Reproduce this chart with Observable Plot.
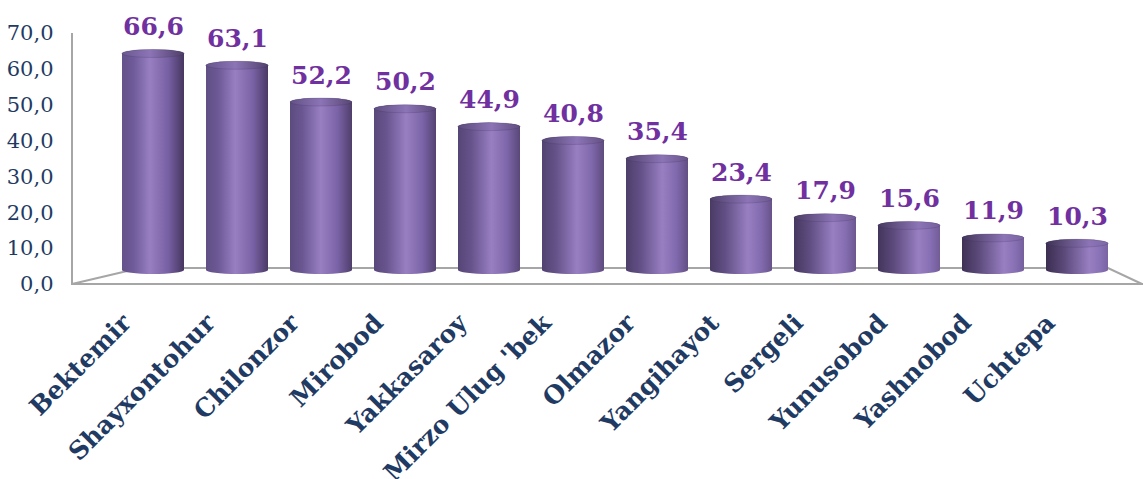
<!DOCTYPE html>
<html><head><meta charset="utf-8">
<script src="https://cdn.jsdelivr.net/npm/d3@7"></script>
<script src="https://cdn.jsdelivr.net/npm/@observablehq/plot@0.6"></script>
<style>
html,body{margin:0;padding:0;background:#fff;}
#chart{position:relative;width:1143px;height:479px;overflow:hidden;}
#chart svg{position:absolute;left:0;top:0;background:transparent !important;}
</style></head><body><div id="chart"></div>
<script>
const districts = ["Bektemir","Shayxontohur","Chilonzor","Mirobod","Yakkasaroy","Mirzo Ulug 'bek","Olmazor","Yangihayot","Sergeli","Yunusobod","Yashnobod","Uchtepa"];
const values = [66.6,63.1,52.2,50.2,44.9,40.8,35.4,23.4,17.9,15.6,11.9,10.3];
const yTicks = [0,10,20,30,40,50,60,70];

const data = districts.map((d,i)=>({district:d, value:values[i], idx:i}));
const fmt = v => v.toFixed(1).replace(".", ",");
const W = 1143, H = 479;
const SERIF = '"DejaVu Serif", serif';
const chart = document.getElementById("chart");
const setFont = (svg) => d3.select(svg).selectAll("text").each(function() { this.style.fontFamily = SERIF; });

// Layer 1: value axis + floor frame
const axisPlot = Plot.plot({
  width: W, height: H,
  marginLeft: 72, marginRight: 2, marginTop: 33, marginBottom: 195,
  x: {domain: [0, 1], axis: null},
  y: {domain: [0, 70], axis: null},
  marks: [
    Plot.axisY(yTicks, {tickSize: 0, tickPadding: 19, tickFormat: fmt, fontSize: 21, fill: "#1f3b63", label: null})
  ]
});
chart.appendChild(axisPlot);
setFont(axisPlot);
{
  const ys = axisPlot.scale("y");
  const y0 = ys.apply(0), y70 = ys.apply(70);
  const yb = y0 - 16;
  const g = d3.select(axisPlot).append("g").attr("stroke", "#a6a6a6").attr("stroke-width", 2).attr("fill", "none");
  g.append("path").attr("d", `M72,${y70}L72,${y0}L1143,${y0}`);
  g.append("path").attr("d", `M72,${y0}L140,${yb}L1108,${yb}L1142,${y0}`);
}

// Layer 2: cylinders, values, category labels
const main = Plot.plot({
  width: W, height: H,
  marginLeft: 111, marginRight: 24, marginTop: 38, marginBottom: 205,
  x: {domain: districts, paddingInner: 0.26, paddingOuter: 0.13, axis: null},
  y: {domain: [0, 70], axis: null},
  marks: [
    Plot.barY(data, {x: "district", y: "value", fill: (d) => `url(#cyl${d.idx})`, rx: 31, ry: 4}),
    Plot.text(data, {x: "district", y: "value", text: d => fmt(d.value), dy: -15, lineAnchor: "bottom",
      fill: "#7030a0", fontSize: 25, fontWeight: "bold"}),
    Plot.axisX({tickSize: 0, tickPadding: 0, tickRotate: -45, textAnchor: "end", lineAnchor: "bottom", label: null,
      dx: -21, dy: 50, fontSize: 25, fontWeight: "bold", fill: "#1f3b63"})
  ]
});
chart.appendChild(main);
setFont(main);
{
  const svg = d3.select(main);
  const defs = svg.insert("defs", ":first-child");
  const n = districts.length;
  const lerp = (a, b, t) => d3.interpolateRgb(a, b)(t);
  data.forEach((d, i) => {
    const t = i / (n - 1);
    const gr = defs.append("linearGradient").attr("id", `cyl${i}`).attr("x1", 0).attr("x2", 1).attr("y1", 0).attr("y2", 0);
    const hl = 0.45 + 0.25 * t;
    gr.append("stop").attr("offset", 0).attr("stop-color", lerp("#64528a", "#3a2e50", t));
    gr.append("stop").attr("offset", hl * 0.4).attr("stop-color", lerp("#6e5a98", "#5a4878", t));
    gr.append("stop").attr("offset", hl).attr("stop-color", "#987fc2");
    gr.append("stop").attr("offset", Math.min(0.97, hl + (1 - hl) * 0.55)).attr("stop-color", lerp("#765fa2", "#8a72b6", t));
    gr.append("stop").attr("offset", 1).attr("stop-color", lerp("#46365f", "#7a64a3", t));
    const cg = defs.append("linearGradient").attr("id", `cap${i}`).attr("x1", 0).attr("x2", 1).attr("y1", 0).attr("y2", 0);
    cg.append("stop").attr("offset", 0).attr("stop-color", lerp("#6a5890", "#3e3254", t));
    cg.append("stop").attr("offset", hl).attr("stop-color", "#8c74b6");
    cg.append("stop").attr("offset", 1).attr("stop-color", lerp("#4e3e68", "#7e68a6", t));
  });
  svg.selectAll('g[aria-label="bar"] rect').each(function(d, i) {
    const r = d3.select(this);
    const x = +r.attr("x"), y = +r.attr("y"), w = +r.attr("width");
    d3.select(this.parentNode).append("ellipse")
      .attr("cx", x + w / 2).attr("cy", y + 4).attr("rx", w / 2).attr("ry", 4)
      .attr("fill", `url(#cap${i})`).attr("stroke", "rgba(60,45,85,0.35)").attr("stroke-width", 0.6);
  });
}
</script></body></html>
